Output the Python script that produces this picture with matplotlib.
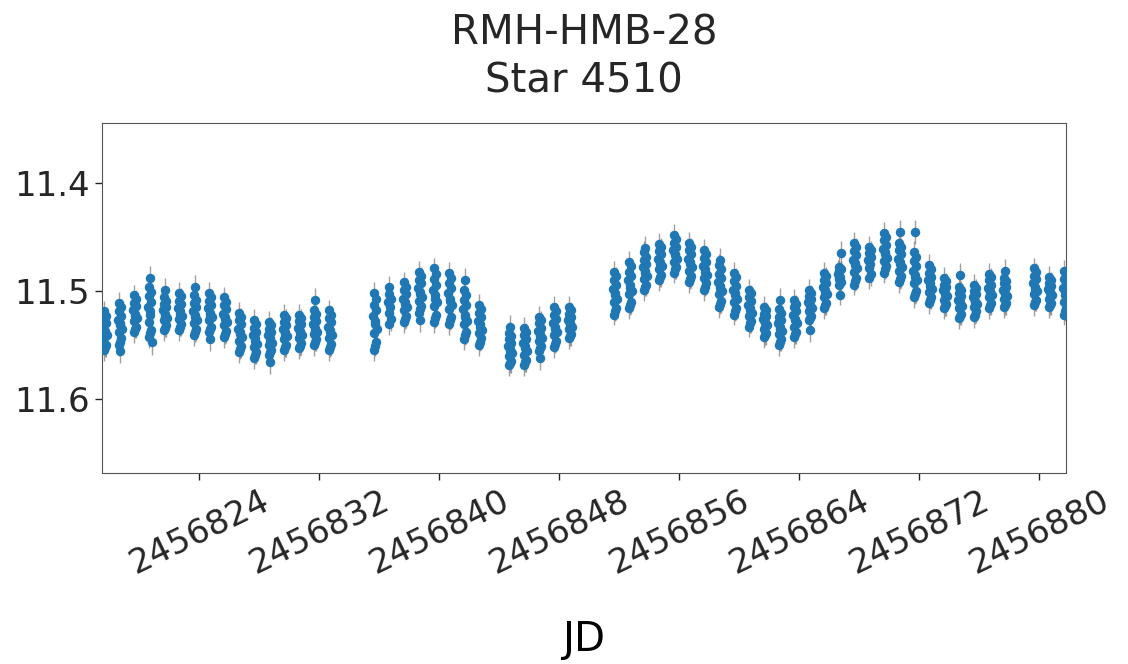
import matplotlib
matplotlib.use("Agg")
import matplotlib.pyplot as plt
from matplotlib.ticker import FormatStrFormatter, MultipleLocator

# Nightly photometry: start of each night's block (JD) and the magnitudes taken that night
NIGHT_JD = [
    2456817.59, 2456818.59, 2456819.59, 2456820.59, 2456821.59, 2456822.59,
    2456823.59, 2456824.59, 2456825.59, 2456826.59, 2456827.59, 2456828.59,
    2456829.59, 2456830.59, 2456831.59, 2456832.59,
    2456835.59, 2456836.59, 2456837.59, 2456838.59, 2456839.59, 2456840.59,
    2456841.59, 2456842.59,
    2456844.59, 2456845.59, 2456846.59, 2456847.59, 2456848.59,
    2456851.59, 2456852.59, 2456853.59, 2456854.59, 2456855.59, 2456856.59,
    2456857.59, 2456858.59, 2456859.59, 2456860.59, 2456861.59, 2456862.59,
    2456863.59, 2456864.59, 2456865.59, 2456866.59, 2456867.59, 2456868.59,
    2456869.59, 2456870.59, 2456871.59, 2456872.59, 2456873.59, 2456874.59,
    2456875.59, 2456876.59, 2456877.59,
    2456879.59, 2456880.59, 2456881.59,
]

NIGHT_MAGS = [
    [11.519, 11.539, 11.526, 11.550, 11.533, 11.555, 11.523, 11.544, 11.530, 11.552, 11.537, 11.541],
    [11.511, 11.532, 11.519, 11.544, 11.527, 11.550, 11.515, 11.538, 11.523, 11.547, 11.530, 11.535, 11.556],
    [11.504, 11.523, 11.511, 11.533, 11.518, 11.538, 11.507, 11.528, 11.514, 11.535, 11.521, 11.525],
    [11.496, 11.522, 11.505, 11.536, 11.515, 11.543, 11.501, 11.529, 11.510, 11.539, 11.519, 11.547, 11.488],
    [11.506, 11.523, 11.512, 11.532, 11.518, 11.536, 11.509, 11.527, 11.515, 11.534, 11.521, 11.525, 11.499],
    [11.502, 11.521, 11.509, 11.531, 11.516, 11.536, 11.505, 11.526, 11.512, 11.533, 11.519, 11.523],
    [11.504, 11.524, 11.511, 11.535, 11.519, 11.541, 11.508, 11.530, 11.515, 11.538, 11.522, 11.527, 11.496],
    [11.502, 11.522, 11.509, 11.533, 11.516, 11.538, 11.506, 11.527, 11.513, 11.535, 11.520, 11.524, 11.545],
    [11.506, 11.526, 11.513, 11.537, 11.521, 11.543, 11.510, 11.532, 11.517, 11.540, 11.524, 11.529],
    [11.520, 11.540, 11.527, 11.551, 11.535, 11.557, 11.524, 11.546, 11.531, 11.554, 11.538, 11.543],
    [11.527, 11.546, 11.534, 11.557, 11.541, 11.562, 11.531, 11.552, 11.538, 11.559, 11.544, 11.549],
    [11.529, 11.546, 11.535, 11.555, 11.541, 11.559, 11.532, 11.550, 11.538, 11.557, 11.544, 11.548, 11.566],
    [11.522, 11.540, 11.529, 11.550, 11.535, 11.555, 11.525, 11.545, 11.532, 11.552, 11.538, 11.542],
    [11.522, 11.539, 11.528, 11.548, 11.534, 11.553, 11.525, 11.544, 11.531, 11.551, 11.537, 11.541],
    [11.518, 11.536, 11.524, 11.545, 11.531, 11.550, 11.521, 11.540, 11.528, 11.547, 11.534, 11.538, 11.508],
    [11.518, 11.538, 11.525, 11.549, 11.533, 11.555, 11.522, 11.544, 11.529, 11.552, 11.536, 11.541],
    [11.502, 11.531, 11.513, 11.547, 11.523, 11.555, 11.507, 11.539, 11.518, 11.551, 11.528, 11.535],
    [11.496, 11.515, 11.503, 11.526, 11.510, 11.531, 11.507, 11.520],
    [11.492, 11.512, 11.499, 11.523, 11.507, 11.529, 11.496, 11.518, 11.503, 11.526, 11.510, 11.515],
    [11.482, 11.503, 11.490, 11.514, 11.497, 11.520, 11.486, 11.509, 11.493, 11.517, 11.501, 11.506, 11.527],
    [11.479, 11.507, 11.489, 11.522, 11.499, 11.529, 11.484, 11.514, 11.494, 11.525, 11.504, 11.510],
    [11.483, 11.509, 11.493, 11.524, 11.502, 11.531, 11.488, 11.517, 11.497, 11.527, 11.507, 11.513],
    [11.499, 11.524, 11.508, 11.538, 11.517, 11.545, 11.504, 11.531, 11.513, 11.541, 11.522, 11.528, 11.490],
    [11.513, 11.533, 11.520, 11.544, 11.528, 11.550, 11.517, 11.539, 11.524, 11.547, 11.531, 11.536],
    [11.539, 11.556, 11.545, 11.565, 11.551, 11.569, 11.542, 11.560, 11.548, 11.567, 11.554, 11.558, 11.533],
    [11.534, 11.553, 11.541, 11.564, 11.548, 11.569, 11.538, 11.559, 11.545, 11.566, 11.551, 11.556],
    [11.524, 11.542, 11.530, 11.551, 11.537, 11.556, 11.527, 11.546, 11.534, 11.553, 11.540, 11.544, 11.562],
    [11.515, 11.535, 11.522, 11.546, 11.530, 11.552, 11.519, 11.541, 11.526, 11.549, 11.533, 11.538],
    [11.515, 11.531, 11.521, 11.540, 11.527, 11.544, 11.518, 11.535, 11.524, 11.542, 11.530, 11.533],
    [11.482, 11.504, 11.490, 11.516, 11.498, 11.522, 11.486, 11.510, 11.494, 11.519, 11.502, 11.507],
    [11.473, 11.497, 11.482, 11.510, 11.490, 11.516, 11.477, 11.503, 11.486, 11.513, 11.494, 11.500],
    [11.464, 11.483, 11.471, 11.494, 11.478, 11.499, 11.468, 11.489, 11.475, 11.496, 11.481, 11.486, 11.460],
    [11.456, 11.475, 11.463, 11.485, 11.470, 11.490, 11.459, 11.480, 11.466, 11.487, 11.473, 11.477],
    [11.448, 11.467, 11.455, 11.478, 11.462, 11.483, 11.452, 11.473, 11.459, 11.480, 11.466, 11.470],
    [11.455, 11.475, 11.462, 11.486, 11.470, 11.492, 11.459, 11.481, 11.466, 11.489, 11.473, 11.478],
    [11.462, 11.482, 11.469, 11.493, 11.477, 11.499, 11.466, 11.488, 11.473, 11.496, 11.480, 11.485],
    [11.476, 11.497, 11.484, 11.509, 11.492, 11.515, 11.480, 11.503, 11.488, 11.512, 11.495, 11.500, 11.471],
    [11.483, 11.504, 11.491, 11.516, 11.499, 11.522, 11.487, 11.510, 11.495, 11.519, 11.502, 11.507],
    [11.499, 11.518, 11.506, 11.528, 11.513, 11.533, 11.502, 11.523, 11.509, 11.530, 11.516, 11.520],
    [11.515, 11.530, 11.521, 11.539, 11.526, 11.543, 11.518, 11.535, 11.523, 11.541, 11.529, 11.532],
    [11.517, 11.535, 11.524, 11.545, 11.530, 11.550, 11.520, 11.540, 11.527, 11.547, 11.533, 11.537, 11.508],
    [11.508, 11.527, 11.515, 11.538, 11.522, 11.543, 11.512, 11.533, 11.519, 11.540, 11.526, 11.530],
    [11.499, 11.514, 11.505, 11.523, 11.510, 11.527, 11.502, 11.519, 11.507, 11.525, 11.513, 11.516, 11.536],
    [11.483, 11.501, 11.490, 11.511, 11.496, 11.516, 11.486, 11.506, 11.493, 11.513, 11.499, 11.503],
    [11.478, 11.487, 11.481, 11.492, 11.484, 11.494, 11.480, 11.489, 11.465, 11.504],
    [11.455, 11.476, 11.463, 11.488, 11.471, 11.494, 11.459, 11.482, 11.467, 11.491, 11.474, 11.479],
    [11.459, 11.475, 11.465, 11.484, 11.471, 11.488, 11.462, 11.479, 11.468],
    [11.446, 11.466, 11.453, 11.477, 11.461, 11.483, 11.450, 11.472, 11.457, 11.480, 11.464, 11.469],
    [11.455, 11.475, 11.462, 11.486, 11.470, 11.492, 11.459, 11.481, 11.466, 11.489, 11.473, 11.478, 11.445],
    [11.464, 11.487, 11.472, 11.500, 11.481, 11.506, 11.468, 11.493, 11.477, 11.503, 11.485, 11.490, 11.445],
    [11.476, 11.495, 11.483, 11.506, 11.490, 11.511, 11.480, 11.501, 11.487, 11.508, 11.493, 11.498],
    [11.488, 11.503, 11.494, 11.512, 11.499, 11.516, 11.491, 11.508, 11.496, 11.514, 11.502, 11.505],
    [11.496, 11.512, 11.502, 11.521, 11.508, 11.525, 11.499, 11.516, 11.505, 11.523, 11.510, 11.514, 11.485],
    [11.494, 11.510, 11.500, 11.519, 11.506, 11.524, 11.497, 11.515, 11.503, 11.522, 11.509, 11.512],
    [11.484, 11.502, 11.490, 11.511, 11.497, 11.516, 11.487, 11.506, 11.494, 11.513, 11.500, 11.504],
    [11.488, 11.503, 11.493, 11.511, 11.499, 11.515, 11.491, 11.507, 11.496, 11.513, 11.502, 11.505, 11.481],
    [11.479, 11.498, 11.486, 11.508, 11.493, 11.513, 11.482, 11.503, 11.489, 11.510, 11.496, 11.500],
    [11.487, 11.502, 11.493, 11.511, 11.498, 11.515, 11.490, 11.507, 11.495, 11.513, 11.501, 11.504],
    [11.481, 11.504, 11.489, 11.516, 11.497, 11.522, 11.485, 11.510, 11.493, 11.519, 11.501, 11.506],
]

# time of each exposure after the start of the night (days) and its error (mag)
EXPOSURE_OFFSETS = [0.05, 0.12, 0.10, 0.21, 0.03, 0.09, 0.20, 0.07, 0.24, 0.14, 0.17, 0.26, 0.15]
MAG_ERRORS = [0.010, 0.012, 0.009, 0.011, 0.013, 0.010, 0.008, 0.012, 0.011, 0.009, 0.010, 0.012, 0.011]

FIELD = "RMH-HMB-28"
STAR_ID = 4510


def main() -> None:
    plt.rcParams["text.color"] = "#262626"
    plt.rcParams["xtick.color"] = "#262626"
    plt.rcParams["ytick.color"] = "#262626"

    jd, mag, err = [], [], []
    for start, mags in zip(NIGHT_JD, NIGHT_MAGS):
        for i, m in enumerate(mags):
            jd.append(start + EXPOSURE_OFFSETS[i])
            mag.append(m)
            err.append(MAG_ERRORS[i])

    fig = plt.figure(figsize=(11.28, 6.64), dpi=100)
    ax = fig.add_axes([0.0904, 0.2877, 0.8546, 0.5271])

    ax.errorbar(jd, mag, yerr=err, fmt="none", ecolor="gray", elinewidth=1.0,
                alpha=0.75, zorder=2)
    ax.plot(jd, mag, "o", color="#1f77b4", markersize=5.8, zorder=3)

    ax.set_xlim(2456817.53, 2456881.8)
    ax.set_ylim(11.669, 11.344)
    ax.xaxis.set_major_locator(MultipleLocator(8))
    ax.xaxis.set_major_formatter(FormatStrFormatter("%d"))
    ax.set_yticks([11.4, 11.5, 11.6])
    ax.tick_params(axis="both", labelsize=24.5, length=5, width=1)
    plt.setp(ax.get_xticklabels(), rotation=26)
    for spine in ax.spines.values():
        spine.set_color("#555555")

    ax.set_xlabel("JD", fontsize=29, labelpad=28)
    ax.set_title(f"{FIELD}\nStar {STAR_ID}", fontsize=29, pad=22, linespacing=1.25)

    fig.savefig("out.png", dpi=100)
    plt.close(fig)


if __name__ == "__main__":
    main()
